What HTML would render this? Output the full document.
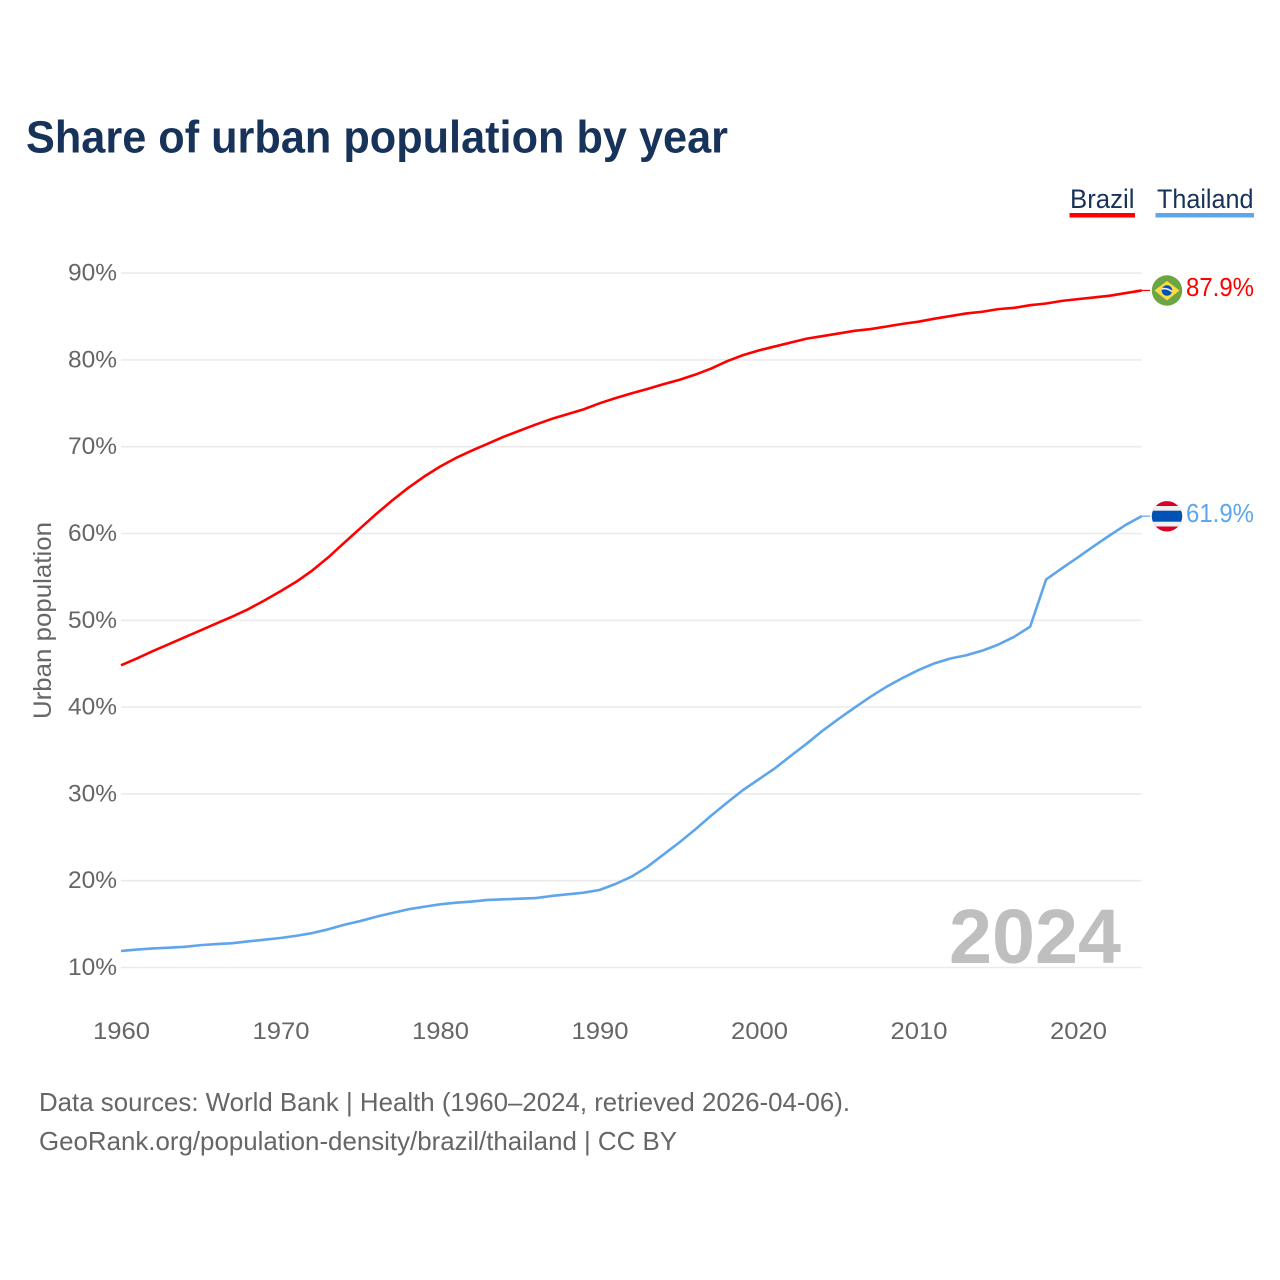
<!DOCTYPE html>
<html lang="en">
<head>
<meta charset="utf-8">
<title>Share of urban population by year</title>
<style>
html,body{margin:0;padding:0;background:#fff;}
svg{display:block;font-family:"Liberation Sans",sans-serif;}
</style>
</head>
<body>
<svg id="chart" xmlns="http://www.w3.org/2000/svg" width="1280" height="1280" viewBox="0 0 1280 1280">
  <rect x="0" y="0" width="1280" height="1280" fill="#ffffff"/>
  <text x="26" y="152.5" font-size="45.5" font-weight="700" fill="#18335a" textLength="702" lengthAdjust="spacingAndGlyphs">Share of urban population by year</text>

  <g>
    <text x="1070" y="208" font-size="26.5" fill="#18335a" textLength="64.5" lengthAdjust="spacingAndGlyphs">Brazil</text>
    <rect x="1069.5" y="213" width="65.5" height="4.5" fill="#ff0000"/>
  </g>
  <g>
    <text x="1157" y="208" font-size="26.5" fill="#18335a" textLength="96.5" lengthAdjust="spacingAndGlyphs">Thailand</text>
    <rect x="1155.5" y="213" width="98.5" height="4.5" fill="#5ea5ec"/>
  </g>

  <g id="grid"></g>
  <g id="yticks"></g>
  <g id="xticks"></g>
  <text transform="translate(51 620.5) rotate(-90)" text-anchor="middle" font-size="25" fill="#666666" textLength="197" lengthAdjust="spacingAndGlyphs">Urban population</text>
  <text x="949" y="963" font-size="77" font-weight="700" fill="#bfbfbf" textLength="172" lengthAdjust="spacingAndGlyphs">2024</text>

  <g id="series"></g>

  <g id="flag-brazil">
    <circle cx="1167" cy="290.5" r="15.2" fill="#6da544"/>
    <polygon points="1167,281 1179.5,290.5 1167,300.5 1154.5,290.5" fill="#ffda44"/>
    <circle cx="1167" cy="290.5" r="5.3" fill="#0052b4"/>
    <path d="M1161.7 289 Q1167 287.5 1172.2 291.8" fill="none" stroke="#f0f0f0" stroke-width="1.6"/>
  </g>
  <g id="flag-thailand">
    <clipPath id="thai-clip"><circle cx="1167" cy="516.3" r="15.2"/></clipPath>
    <g clip-path="url(#thai-clip)">
      <rect x="1150" y="500" width="34" height="33" fill="#d80027"/>
      <rect x="1150" y="506" width="34" height="20.5" fill="#f0f0f0"/>
      <rect x="1150" y="510.7" width="34" height="11" fill="#0052b4"/>
    </g>
  </g>

  <text x="1186" y="296" font-size="25.5" fill="#ff0000" textLength="68" lengthAdjust="spacingAndGlyphs">87.9%</text>
  <text x="1186" y="522" font-size="25.5" fill="#5ea5ec" textLength="68" lengthAdjust="spacingAndGlyphs">61.9%</text>

  <text x="39" y="1111" font-size="26" fill="#666666" textLength="811" lengthAdjust="spacingAndGlyphs">Data sources: World Bank | Health (1960–2024, retrieved 2026-04-06).</text>
  <text x="39" y="1150" font-size="26" fill="#666666" textLength="638" lengthAdjust="spacingAndGlyphs">GeoRank.org/population-density/brazil/thailand | CC BY</text>
</svg>
<script>
const startYear = 1960;
const yTickValues = [10, 20, 30, 40, 50, 60, 70, 80, 90];
const xTickYears = [1960, 1970, 1980, 1990, 2000, 2010, 2020];
const brazilValues = [
  44.82, 45.6, 46.45, 47.25, 48.05, 48.85, 49.65, 50.45, 51.3, 52.3,
  53.35, 54.45, 55.75, 57.26, 58.94, 60.6, 62.25, 63.8, 65.25, 66.55,
  67.7, 68.7, 69.55, 70.35, 71.15, 71.85, 72.55, 73.2, 73.75, 74.3,
  75.0, 75.6, 76.15, 76.65, 77.2, 77.7, 78.3, 79.0, 79.85, 80.55,
  81.1, 81.55, 82.0, 82.45, 82.75, 83.05, 83.35, 83.55, 83.85, 84.15,
  84.4, 84.75, 85.05, 85.35, 85.55, 85.85, 86.0, 86.3, 86.5, 86.8,
  87.0, 87.2, 87.4, 87.7, 88.0
];
const thailandValues = [
  11.9, 12.07, 12.2, 12.28, 12.38, 12.58, 12.7, 12.8, 13.02, 13.2,
  13.4, 13.66, 13.97, 14.4, 14.93, 15.35, 15.85, 16.28, 16.7, 17.0,
  17.28, 17.47, 17.6, 17.78, 17.85, 17.93, 18.0, 18.24, 18.43, 18.62,
  18.93, 19.62, 20.46, 21.6, 23.0, 24.4, 25.9, 27.5, 29.0, 30.45,
  31.7, 32.95, 34.4, 35.8, 37.3, 38.65, 39.95, 41.2, 42.35, 43.35,
  44.27, 45.04, 45.6, 45.97, 46.5, 47.2, 48.1, 49.27, 54.7, 56.0,
  57.26, 58.55, 59.8, 61.0, 62.0
];

const NS = 'http://www.w3.org/2000/svg';
function xScale(year) { return 121 + (year - 1960) * 15.95; }
function yScale(value) { return 967.5 - (value - 10) * 8.68; }
function linePoints(values) {
  return values.map(function (v, i) {
    return xScale(startYear + i).toFixed(2) + ',' + yScale(v).toFixed(2);
  }).join(' ');
}

const gridGroup = document.getElementById('grid');
const yTickGroup = document.getElementById('yticks');
const xTickGroup = document.getElementById('xticks');
const seriesGroup = document.getElementById('series');

yTickValues.forEach(function (v) {
  const line = document.createElementNS(NS, 'line');
  
  
  line.setAttribute('x1', 121);
  line.setAttribute('x2', 1141.7);
  line.setAttribute('y1', yScale(v));
  line.setAttribute('y2', yScale(v));
  line.setAttribute('stroke', '#ebebeb');
  line.setAttribute('stroke-width', 1.6);
  gridGroup.appendChild(line);

  const label = document.createElementNS(NS, 'text');
  
  
  label.setAttribute('x', 117);
  label.setAttribute('y', yScale(v) + 7.5);
  label.setAttribute('text-anchor', 'end');
  label.setAttribute('font-size', 24);
  label.setAttribute('fill', '#666666');
  label.setAttribute('textLength', 49);
  label.setAttribute('lengthAdjust', 'spacingAndGlyphs');
  label.textContent = v + '%';
  yTickGroup.appendChild(label);
});

xTickYears.forEach(function (year) {
  const label = document.createElementNS(NS, 'text');
  
  
  label.setAttribute('x', xScale(year) + 0.5);
  label.setAttribute('y', 1039);
  label.setAttribute('text-anchor', 'middle');
  label.setAttribute('font-size', 24);
  label.setAttribute('fill', '#666666');
  label.setAttribute('textLength', 57);
  label.setAttribute('lengthAdjust', 'spacingAndGlyphs');
  label.textContent = String(year);
  xTickGroup.appendChild(label);
});

const brazilLine = document.createElementNS(NS, 'polyline');


brazilLine.setAttribute('points', linePoints(brazilValues));
brazilLine.setAttribute('fill', 'none');
brazilLine.setAttribute('stroke', '#ff0000');
brazilLine.setAttribute('stroke-width', 2.6);
brazilLine.setAttribute('stroke-linejoin', 'round');
seriesGroup.appendChild(brazilLine);

const thailandLine = document.createElementNS(NS, 'polyline');


thailandLine.setAttribute('points', linePoints(thailandValues));
thailandLine.setAttribute('fill', 'none');
thailandLine.setAttribute('stroke', '#5ea5ec');
thailandLine.setAttribute('stroke-width', 2.6);
thailandLine.setAttribute('stroke-linejoin', 'round');
seriesGroup.appendChild(thailandLine);

const brazilConnector = document.createElementNS(NS, 'line');


brazilConnector.setAttribute('x1', xScale(2024));
brazilConnector.setAttribute('x2', 1150);
brazilConnector.setAttribute('y1', yScale(brazilValues[brazilValues.length - 1]));
brazilConnector.setAttribute('y2', yScale(brazilValues[brazilValues.length - 1]));
brazilConnector.setAttribute('stroke', '#ff0000');
brazilConnector.setAttribute('stroke-width', 1.2);
seriesGroup.appendChild(brazilConnector);

const thailandConnector = document.createElementNS(NS, 'line');


thailandConnector.setAttribute('x1', xScale(2024));
thailandConnector.setAttribute('x2', 1150);
thailandConnector.setAttribute('y1', yScale(thailandValues[thailandValues.length - 1]));
thailandConnector.setAttribute('y2', yScale(thailandValues[thailandValues.length - 1]));
thailandConnector.setAttribute('stroke', '#5ea5ec');
thailandConnector.setAttribute('stroke-width', 1.2);
seriesGroup.appendChild(thailandConnector);
</script>
</body>
</html>
